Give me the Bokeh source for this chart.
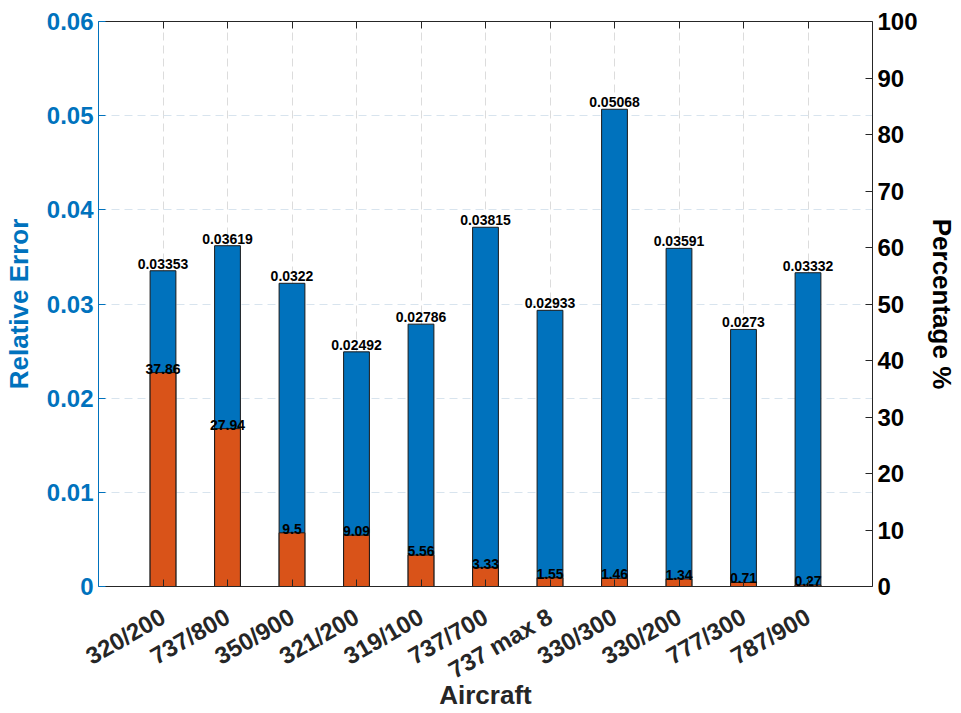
import math
from bokeh.plotting import figure
from bokeh.models import Range1d, LinearAxis, FixedTicker, ColumnDataSource
from bokeh.embed import file_html
from bokeh.resources import INLINE
from bokeh.core.properties import value

aircraft = ["320/200", "737/800", "350/900", "321/200", "319/100", "737/700",
            "737 max 8", "330/300", "330/200", "777/300", "787/900"]
rel_error = [0.03353, 0.03619, 0.0322, 0.02492, 0.02786, 0.03815,
             0.02933, 0.05068, 0.03591, 0.0273, 0.03332]
percentage = [37.86, 27.94, 9.5, 9.09, 5.56, 3.33, 1.55, 1.46, 1.34, 0.71, 0.27]
left_ticks = [0, 0.01, 0.02, 0.03, 0.04, 0.05, 0.06]
left_tick_labels = ["0", "0.01", "0.02", "0.03", "0.04", "0.05", "0.06"]
right_ticks = [0, 10, 20, 30, 40, 50, 60, 70, 80, 90, 100]

FONT = "Liberation Sans"
BLUE = "#0072BD"
ORANGE = "#D95319"
DARK = "#262626"

xs = list(range(1, len(aircraft) + 1))
src = ColumnDataSource(dict(
    x=xs, err=rel_error, pct=percentage,
    err_lbl=[str(v) for v in rel_error],
    pct_lbl=[str(v) for v in percentage],
))

p = figure(width=961, height=713, output_backend="svg", toolbar_location=None,
           x_range=Range1d(0, len(aircraft) + 1), y_range=Range1d(0, 0.06),
           min_border_left=98, min_border_right=89, min_border_top=21,
           min_border_bottom=127)
p.extra_y_ranges = {"pct": Range1d(0, 100)}
p.outline_line_color = None
p.background_fill_color = "white"
p.border_fill_color = "white"

p.vbar(x="x", top="err", width=0.4, source=src, fill_color=BLUE,
       line_color="#1a1a1a", line_width=1)
p.vbar(x="x", top="pct", width=0.4, source=src, fill_color=ORANGE,
       line_color="#1a1a1a", line_width=1, y_range_name="pct")

p.text(x="x", y="err", text="err_lbl", source=src, text_align="center",
       text_baseline="bottom", y_offset=-2, text_font=value(FONT),
       text_font_style="bold", text_font_size="14px", text_color="black")
p.text(x="x", y="pct", text="pct_lbl", source=src, text_align="center",
       text_baseline="bottom", y_offset=1, text_font=value(FONT),
       text_font_style="bold", text_font_size="14px", text_color="black",
       y_range_name="pct")

# grids
p.xgrid.ticker = FixedTicker(ticks=xs)
p.xgrid.grid_line_color = "#dcdcdc"
p.xgrid.grid_line_dash = "8 5"
p.ygrid.ticker = FixedTicker(ticks=left_ticks)
p.ygrid.grid_line_color = "#d8e4ee"
p.ygrid.grid_line_dash = "8 5"

# bottom axis
xa = p.xaxis[0]
xa.ticker = FixedTicker(ticks=xs)
xa.major_label_overrides = {i: name for i, name in zip(xs, aircraft)}
xa.major_label_orientation = math.pi / 6
xa.major_label_text_font = FONT
xa.major_label_text_font_style = "bold"
xa.major_label_text_font_size = "24px"
xa.major_label_text_color = DARK
xa.major_label_standoff = 28
xa.axis_label = "Aircraft"
xa.axis_label_text_font = FONT
xa.axis_label_text_font_style = "bold"
xa.axis_label_text_font_size = "26px"
xa.axis_label_text_color = DARK
xa.axis_label_standoff = -18
xa.axis_line_color = DARK
xa.major_tick_line_color = DARK
xa.major_tick_in = 7
xa.major_tick_out = 0
xa.minor_tick_line_color = None

# left axis
ya = p.yaxis[0]
ya.ticker = FixedTicker(ticks=left_ticks)
ya.major_label_overrides = {t: s for t, s in zip(left_ticks, left_tick_labels)}
ya.major_label_text_font = FONT
ya.major_label_text_font_style = "bold"
ya.major_label_text_font_size = "24px"
ya.major_label_text_color = BLUE
ya.axis_label = "Relative Error"
ya.axis_label_text_font = FONT
ya.axis_label_text_font_style = "bold"
ya.axis_label_text_font_size = "26px"
ya.axis_label_text_color = BLUE
ya.axis_label_standoff = 10
ya.axis_line_color = BLUE
ya.major_tick_line_color = BLUE
ya.major_tick_in = 7
ya.major_tick_out = 0
ya.minor_tick_line_color = None

# right axis
ra = LinearAxis(y_range_name="pct", ticker=FixedTicker(ticks=right_ticks))
ra.major_label_text_font = FONT
ra.major_label_text_font_style = "bold"
ra.major_label_text_font_size = "24px"
ra.major_label_text_color = "black"
ra.axis_label = "Percentage %"
ra.axis_label_text_font = FONT
ra.axis_label_text_font_style = "bold"
ra.axis_label_text_font_size = "26px"
ra.axis_label_text_color = "black"
ra.axis_label_standoff = 6
ra.axis_line_color = DARK
ra.major_tick_line_color = DARK
ra.major_tick_in = 7
ra.major_tick_out = 0
ra.minor_tick_line_color = None
p.add_layout(ra, "right")

# top axis (ticks only)
ta = LinearAxis(ticker=FixedTicker(ticks=xs))
ta.major_label_text_font_size = "0px"
ta.major_label_text_color = None
ta.axis_line_color = DARK
ta.major_tick_line_color = DARK
ta.major_tick_in = 7
ta.major_tick_out = 0
ta.minor_tick_line_color = None
ta.major_label_standoff = 0
p.add_layout(ta, "above")

open("out.html", "w").write(file_html(p, INLINE))
